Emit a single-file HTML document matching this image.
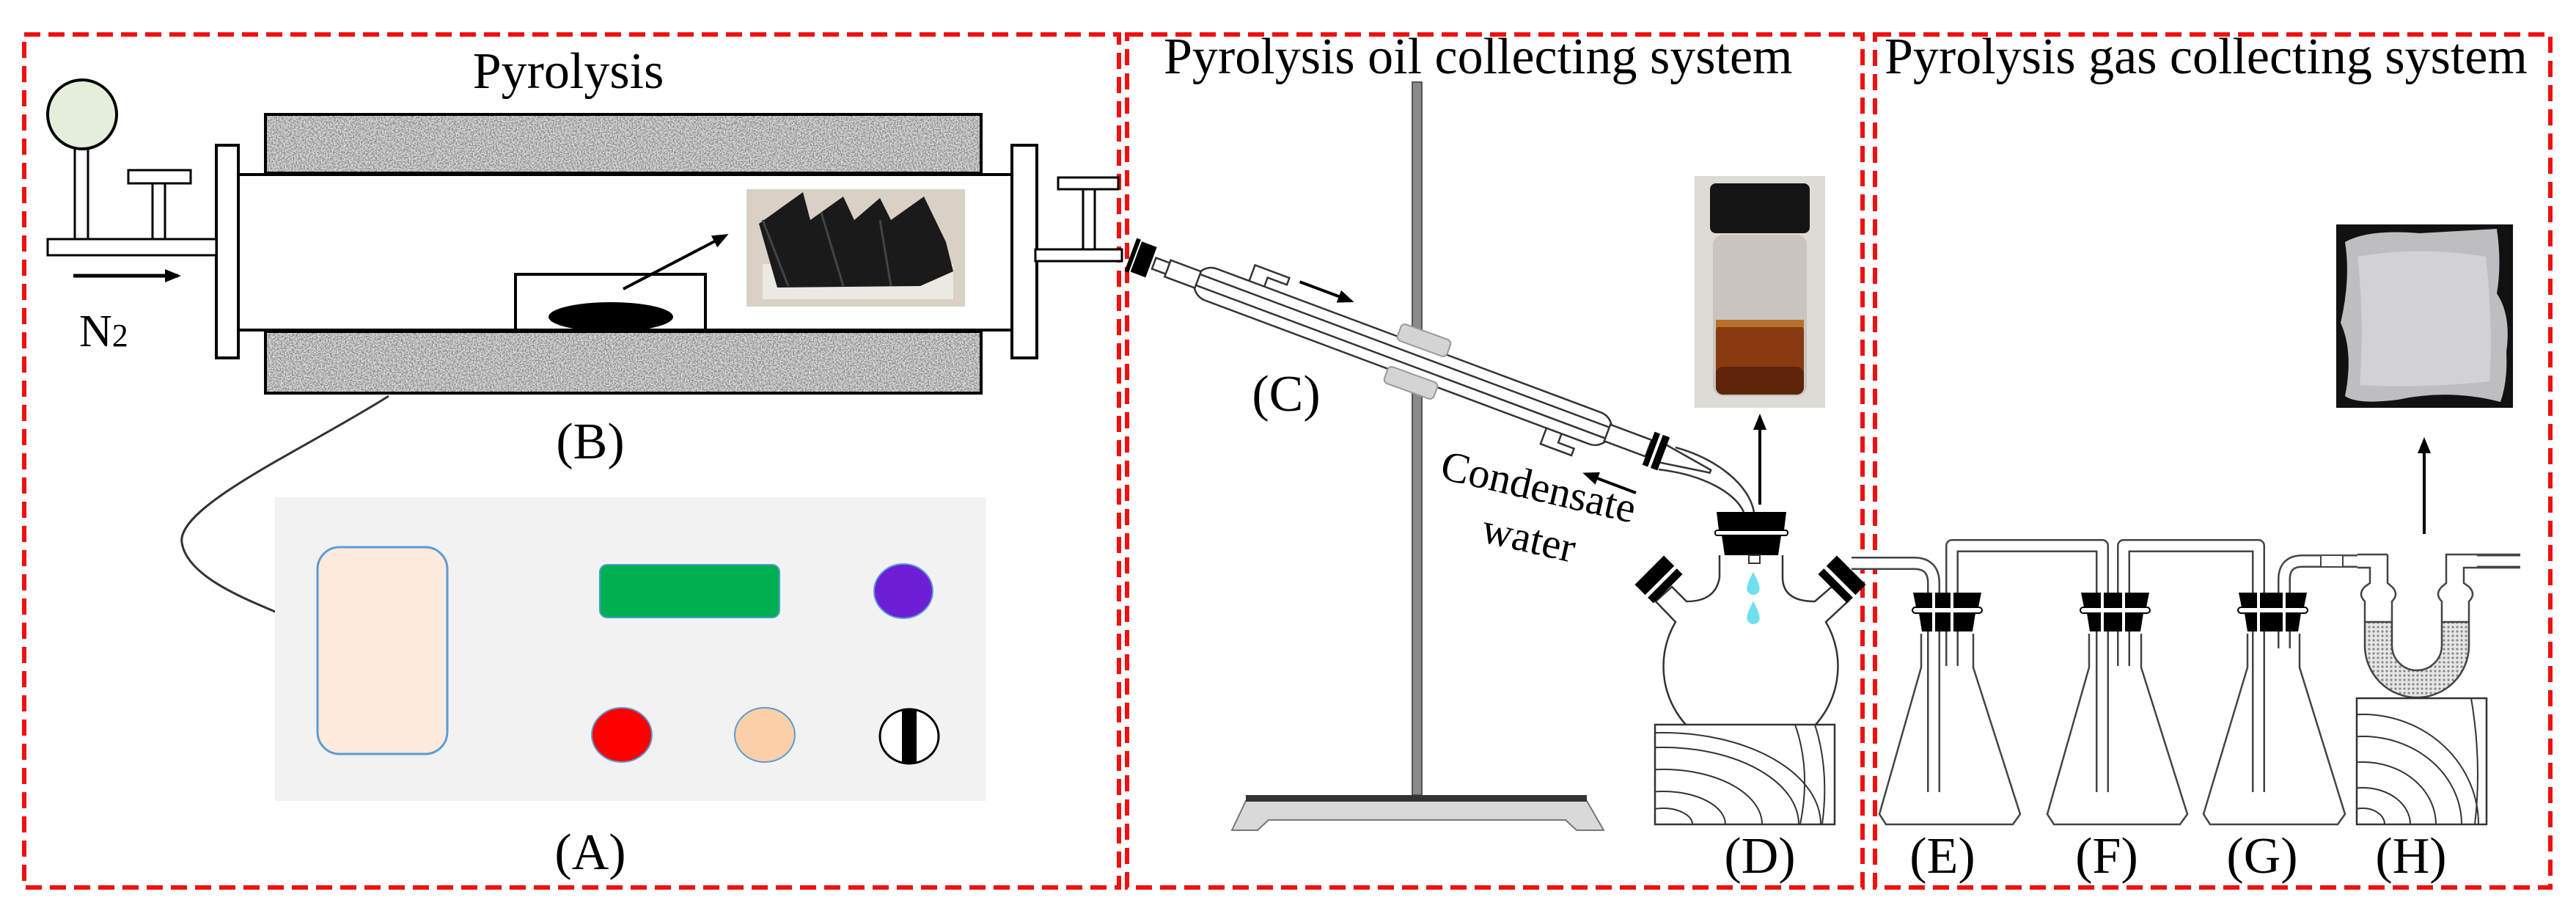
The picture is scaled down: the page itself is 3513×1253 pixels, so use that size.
<!DOCTYPE html>
<html><head><meta charset="utf-8"><style>html,body{margin:0;padding:0;background:#fff}svg{display:block}</style></head><body>
<svg width="3513" height="1253" viewBox="0 0 3513 1253" xmlns="http://www.w3.org/2000/svg" font-family="'Liberation Serif', 'Times New Roman', serif">
<defs>
<filter id="spk" x="0" y="0" width="1" height="1">
<feTurbulence type="fractalNoise" baseFrequency="0.55" numOctaves="1" seed="4" result="t"/>
<feColorMatrix in="t" type="matrix" values="0 0 0 0 0.25  0 0 0 0 0.25  0 0 0 0 0.25  3.2 0 0 0 -1.1" result="d"/>
<feFlood flood-color="#dedede" result="f"/>
<feMerge><feMergeNode in="f"/><feMergeNode in="d"/></feMerge>
</filter>
<pattern id="dots" width="6" height="6" patternUnits="userSpaceOnUse"><rect width="6" height="6" fill="#e6e6e6"/><circle cx="3" cy="3" r="1.6" fill="#888"/></pattern>
<marker id="ahb" markerWidth="22" markerHeight="18" refX="18" refY="9" orient="auto" markerUnits="userSpaceOnUse"><path d="M0,0 L22,9 L0,18 z" fill="#000"/></marker>
<clipPath id="cwD"><rect x="2257" y="988" width="245" height="136"/></clipPath>
<clipPath id="cwH"><rect x="3214" y="952" width="177" height="172"/></clipPath>
</defs>

<g fill="none" stroke="#f01010" stroke-width="6" stroke-dasharray="22,11">
<rect x="33" y="47" width="1493" height="1163"/>
<rect x="1537" y="47" width="1003" height="1163"/>
<rect x="2557" y="47" width="921" height="1163"/>
</g>

<!-- ===== BOX 1 ===== -->
<text x="775" y="120" font-size="70" text-anchor="middle" font-family="'Liberation Serif', serif">Pyrolysis</text>
<rect x="362" y="156" width="976" height="80" filter="url(#spk)"/>
<rect x="362" y="156" width="976" height="80" fill="none" stroke="#000" stroke-width="4"/>
<rect x="362" y="452" width="976" height="84" filter="url(#spk)"/>
<rect x="362" y="452" width="976" height="84" fill="none" stroke="#000" stroke-width="4"/>
<rect x="312" y="238" width="1088" height="212" fill="#fff" stroke="#000" stroke-width="4"/>
<rect x="295" y="198" width="30" height="290" fill="#fff" stroke="#000" stroke-width="4"/>
<rect x="1380" y="198" width="34" height="290" fill="#fff" stroke="#000" stroke-width="4"/>
<rect x="65" y="326" width="230" height="22" fill="#fff" stroke="#000" stroke-width="3"/>
<rect x="102" y="200" width="18" height="126" fill="#fff" stroke="#000" stroke-width="3"/>
<circle cx="112" cy="156" r="47" fill="#e4eedb" stroke="#000" stroke-width="4"/>
<rect x="208" y="250" width="17" height="76" fill="#fff" stroke="#000" stroke-width="3"/>
<rect x="175" y="232" width="85" height="18" fill="#fff" stroke="#000" stroke-width="3"/>
<line x1="100" y1="376" x2="243" y2="376" stroke="#000" stroke-width="5" marker-end="url(#ahb)"/>
<text x="108" y="472" font-size="62" font-family="'Liberation Serif', serif">N<tspan font-size="44">2</tspan></text>
<rect x="1412" y="340" width="118" height="16" fill="#fff" stroke="#000" stroke-width="3"/>
<rect x="1477" y="258" width="16" height="82" fill="#fff" stroke="#000" stroke-width="3"/>
<rect x="1443" y="242" width="82" height="16" fill="#fff" stroke="#000" stroke-width="3"/>
<rect x="703" y="374" width="259" height="76" fill="#fff" stroke="#000" stroke-width="4"/>
<ellipse cx="833" cy="432" rx="85" ry="20" fill="#000"/>
<line x1="850" y1="394" x2="990" y2="321" stroke="#000" stroke-width="4" marker-end="url(#ahb)"/>
<rect x="1018" y="258" width="298" height="160" fill="#d9d0c6"/>
<rect x="1040" y="360" width="260" height="48" fill="#ece8e2"/>
<path d="M1035,305 L1095,262 L1105,300 L1150,268 L1165,300 L1200,270 L1215,300 L1260,268 L1290,330 L1300,370 L1255,390 L1060,392 Z" fill="#1a1a1a"/>
<path d="M1040,300 L1075,390 M1120,290 L1150,390 M1200,300 L1215,390" stroke="#444" stroke-width="3"/>
<text x="805" y="625" font-size="70" text-anchor="middle" font-family="'Liberation Serif', serif">(B)</text>
<path d="M530,540 C420,610 240,690 248,740 C255,785 330,815 380,836" fill="none" stroke="#333" stroke-width="3"/>
<rect x="375" y="678" width="970" height="414" fill="#f2f2f2"/>
<rect x="433" y="746" width="177" height="282" rx="30" fill="#fdeadc" stroke="#5b9bd5" stroke-width="3"/>
<rect x="818" y="770" width="245" height="72" rx="10" fill="#00b050" stroke="#41a0d0" stroke-width="2"/>
<ellipse cx="1232" cy="806" rx="40" ry="37" fill="#6e1fd6" stroke="#5b9bd5" stroke-width="2"/>
<ellipse cx="848" cy="1002" rx="41" ry="37" fill="#f00" stroke="#5b9bd5" stroke-width="2"/>
<ellipse cx="1043" cy="1002" rx="41" ry="37" fill="#fbd0a8" stroke="#5b9bd5" stroke-width="2"/>
<ellipse cx="1240" cy="1004" rx="40" ry="37" fill="#fff" stroke="#000" stroke-width="3"/>
<rect x="1230" y="967" width="20" height="74" fill="#000"/>
<text x="805" y="1185" font-size="70" text-anchor="middle" font-family="'Liberation Serif', serif">(A)</text>

<!-- ===== BOX 2 ===== -->
<text x="1587" y="100" font-size="70" font-family="'Liberation Serif', serif">Pyrolysis oil collecting system</text>
<rect x="1926" y="112" width="13" height="972" fill="#8a8a8a" stroke="#555" stroke-width="2"/>
<path d="M1699,1092 L2164,1092 L2187,1132 L2150,1132 L2135,1118 L1730,1118 L1715,1132 L1680,1132 Z" fill="#d9d9d9" stroke="#777" stroke-width="2"/>
<rect x="1699" y="1084" width="465" height="9" fill="#333"/>
<g transform="translate(1555,352) rotate(20.5)" stroke="#333" stroke-width="2.5" fill="#fff">
  <path d="M150,-22 L150,-46 L200,-46 L200,-36 L172,-36 L172,-22" />
  <path d="M600,22 L600,46 L645,46 L645,36 L622,36 L622,22"/>
  <rect x="80" y="-23" width="605" height="46" rx="23"/>
  <rect x="20" y="-8" width="730" height="16"/>
  <rect x="40" y="-12" width="44" height="24"/>
  <rect x="680" y="-12" width="60" height="24"/>
  <path d="M760,-13 L830,-2 L830,2 L760,13 Z"/>
  <rect x="-6" y="-22" width="22" height="44" fill="#000" stroke="none"/>
  <rect x="-14" y="-24" width="6" height="48" fill="#000" stroke="none"/>
  <rect x="740" y="-24" width="22" height="48" fill="#000" stroke="none"/>
  <rect x="748" y="-24" width="4" height="48" fill="#fff" stroke="none"/>
  <line x1="215" y1="-46" x2="290" y2="-46" stroke="#000" stroke-width="4" marker-end="url(#ahb)"/>
</g>
<path d="M2262,640 C2320,647 2365,670 2378,698" fill="none" stroke="#333" stroke-width="2.5"/>
<path d="M2285,610 C2340,625 2385,660 2392,698" fill="none" stroke="#333" stroke-width="2.5"/>
<g fill="#d4d4d4" stroke="#999" stroke-width="2">
<rect x="1906" y="452" width="72" height="24" rx="6" transform="rotate(20 1942 464)"/>
<rect x="1888" y="510" width="72" height="24" rx="6" transform="rotate(20 1924 522)"/>
</g>
<text x="1754" y="560" font-size="70" text-anchor="middle" font-family="'Liberation Serif', serif">(C)</text>
<text font-size="58" transform="translate(1962,652) rotate(13)" font-family="'Liberation Serif', serif">Condensate</text>
<text font-size="58" transform="translate(2018,738) rotate(13)" font-family="'Liberation Serif', serif">water</text>
<line x1="2231" y1="672" x2="2162" y2="646" stroke="#000" stroke-width="4" marker-end="url(#ahb)"/>
<rect x="2311" y="240" width="178" height="316" fill="#dedad6"/>
<rect x="2336" y="320" width="128" height="220" rx="14" fill="#c9c4bf"/>
<rect x="2340" y="440" width="120" height="98" rx="10" fill="#8a3a10"/>
<rect x="2340" y="500" width="120" height="38" rx="10" fill="#5e2508"/>
<rect x="2340" y="436" width="120" height="10" fill="#b7702a"/>
<rect x="2332" y="250" width="136" height="68" rx="8" fill="#151515"/>
<line x1="2400" y1="688" x2="2400" y2="568" stroke="#000" stroke-width="4" marker-end="url(#ahb)"/>
<path d="M2345,757 L2345,787 Q2340,820 2300,820 L2280,800 L2258,820 L2285,848 A119,119 0 1 0 2490,848 L2520,820 L2498,800 L2475,820 Q2431,820 2431,787 L2431,757" fill="#fff" stroke="#333" stroke-width="2.5"/>
<path d="M2341,698 L2436,698 L2433,723 L2344,723 Z" fill="#000"/>
<rect x="2339" y="723" width="99" height="7" rx="3" fill="#fff" stroke="#000" stroke-width="2"/>
<path d="M2348,730 L2429,730 L2425,757 L2352,757 Z" fill="#000"/>
<rect x="2385" y="757" width="15" height="11" fill="#fff" stroke="#333" stroke-width="2"/>
<g transform="translate(2262,790) rotate(-45)"><rect x="-28" y="-18" width="56" height="36" fill="#000"/><rect x="-30" y="2" width="60" height="5" fill="#fff"/></g>
<g transform="translate(2512,790) rotate(45)"><rect x="-28" y="-18" width="56" height="36" fill="#000"/><rect x="-30" y="2" width="60" height="5" fill="#fff"/></g>
<path d="M2391,780 Q2380,800 2383,806 A9,9 0 0 0 2399,806 Q2402,800 2391,780 Z" fill="#6ee0f0"/>
<path d="M2391,820 Q2380,840 2383,846 A9,9 0 0 0 2399,846 Q2402,840 2391,820 Z" fill="#6ee0f0"/>
<rect x="2257" y="988" width="245" height="136" fill="#fff" stroke="#333" stroke-width="2.5"/>
<g clip-path="url(#cwD)" fill="none" stroke="#333" stroke-width="2">
<ellipse cx="2268" cy="1124" rx="40" ry="22"/><ellipse cx="2268" cy="1124" rx="85" ry="45"/><ellipse cx="2268" cy="1124" rx="135" ry="75"/><ellipse cx="2268" cy="1124" rx="185" ry="105"/><ellipse cx="2268" cy="1124" rx="215" ry="125"/>
<path d="M2475,988 Q2495,1050 2485,1124"/><path d="M2448,988 Q2470,1050 2455,1124"/>
</g>
<text x="2400" y="1190" font-size="70" text-anchor="middle" font-family="'Liberation Serif', serif">(D)</text>

<!-- ===== BOX 3 ===== -->
<text x="2570" y="100" font-size="70" font-family="'Liberation Serif', serif">Pyrolysis gas collecting system</text>
<g fill="none" stroke-linejoin="round">
<path d="M2525,768 L2610,768 Q2637,768 2637,795 L2637,1080 M2662,908 L2662,744 L2867,744 L2867,1080 M2896,908 L2896,744 L3080,744 L3080,1080 M3115,884 L3115,790 Q3115,765 3140,765 L3215,765 M3378,765 L3437,765" stroke="#444" stroke-width="18"/>
<path d="M2525,768 L2610,768 Q2637,768 2637,795 L2637,1080 M2662,908 L2662,744 L2867,744 L2867,1080 M2896,908 L2896,744 L3080,744 L3080,1080 M3115,884 L3115,790 Q3115,765 3140,765 L3215,765 M3378,765 L3437,765" stroke="#fff" stroke-width="13"/>
</g>
<g fill="none" stroke="#444" stroke-width="2.5">
<path d="M2620,864 L2620,910 L2563,1110 L2572,1124 L2745,1124 L2755,1110 L2691,910 L2691,864"/>
<path d="M2849,864 L2849,910 L2792,1110 L2801,1124 L2973,1124 L2983,1110 L2920,910 L2920,864"/>
<path d="M3065,864 L3065,910 L3005,1110 L3014,1124 L3188,1124 L3198,1110 L3136,910 L3136,864"/>
</g>
<g fill="#000">
<path d="M2609,808 L2702,808 L2698,828 L2613,828 Z"/><path d="M2617,836 L2694,836 L2690,861 L2621,861 Z"/>
<path d="M2838,808 L2931,808 L2927,828 L2842,828 Z"/><path d="M2846,836 L2923,836 L2919,861 L2850,861 Z"/>
<path d="M3053,808 L3146,808 L3142,828 L3057,828 Z"/><path d="M3061,836 L3138,836 L3134,861 L3065,861 Z"/>
</g>
<g fill="#fff" stroke="#000" stroke-width="2"><rect x="2608" y="828" width="95" height="8" rx="4"/><rect x="2837" y="828" width="95" height="8" rx="4"/><rect x="3052" y="828" width="95" height="8" rx="4"/></g>
<g stroke="#fff" stroke-width="4"><line x1="2637" y1="808" x2="2637" y2="861"/><line x1="2662" y1="808" x2="2662" y2="861"/><line x1="2867" y1="808" x2="2867" y2="861"/><line x1="2896" y1="808" x2="2896" y2="861"/><line x1="3080" y1="808" x2="3080" y2="861"/><line x1="3115" y1="808" x2="3115" y2="861"/></g>
<!-- U tube H (explicit outline) -->
<path d="M3225,848 L3225,880 A71,71 0 0 0 3367,880 L3367,848 L3330,848 L3330,880 A34,34 0 0 1 3262,880 L3262,848 Z" fill="url(#dots)" stroke="#444" stroke-width="2.5"/>
<path d="M3225,848 L3225,820 Q3215,810 3225,800 L3232,795 L3232,774 L3215,774 M3262,848 L3262,820 Q3272,810 3262,800 L3256,795 L3256,756" fill="none" stroke="#444" stroke-width="2.5"/>
<path d="M3367,848 L3367,820 Q3377,810 3367,800 L3360,795 L3360,774 L3437,774 M3330,848 L3330,820 Q3320,810 3330,800 L3336,795 L3336,756 L3437,756" fill="none" stroke="#444" stroke-width="2.5"/>
<path d="M3215,756 L3256,756" stroke="#444" stroke-width="2.5"/>
<rect x="3165" y="757" width="30" height="16" fill="#fff" stroke="#444" stroke-width="2"/>
<rect x="3214" y="952" width="177" height="172" fill="#fff" stroke="#333" stroke-width="2.5"/>
<g clip-path="url(#cwH)" fill="none" stroke="#333" stroke-width="2">
<ellipse cx="3222" cy="1124" rx="30" ry="22"/><ellipse cx="3222" cy="1124" rx="65" ry="50"/><ellipse cx="3222" cy="1124" rx="100" ry="85"/><ellipse cx="3222" cy="1124" rx="135" ry="120"/><ellipse cx="3222" cy="1124" rx="158" ry="150"/>
<path d="M3370,952 Q3385,1040 3375,1124"/>
</g>
<line x1="3306" y1="728" x2="3306" y2="600" stroke="#000" stroke-width="4" marker-end="url(#ahb)"/>
<rect x="3186" y="306" width="241" height="250" fill="#111"/>
<path d="M3198,330 Q3230,312 3300,318 L3405,312 Q3412,360 3405,400 Q3425,430 3418,480 Q3420,520 3410,548 Q3340,530 3270,545 Q3215,552 3198,540 Q3210,480 3192,440 Q3206,380 3198,330 Z" fill="#bdbdc2"/>
<path d="M3215,350 Q3300,335 3390,350 Q3400,440 3395,520 Q3300,530 3218,525 Q3225,440 3215,350 Z" fill="#d2d2d6"/>
<text x="2649" y="1190" font-size="70" text-anchor="middle" font-family="'Liberation Serif', serif">(E)</text>
<text x="2873" y="1190" font-size="70" text-anchor="middle" font-family="'Liberation Serif', serif">(F)</text>
<text x="3085" y="1190" font-size="70" text-anchor="middle" font-family="'Liberation Serif', serif">(G)</text>
<text x="3288" y="1190" font-size="70" text-anchor="middle" font-family="'Liberation Serif', serif">(H)</text>
</svg>
</body></html>
